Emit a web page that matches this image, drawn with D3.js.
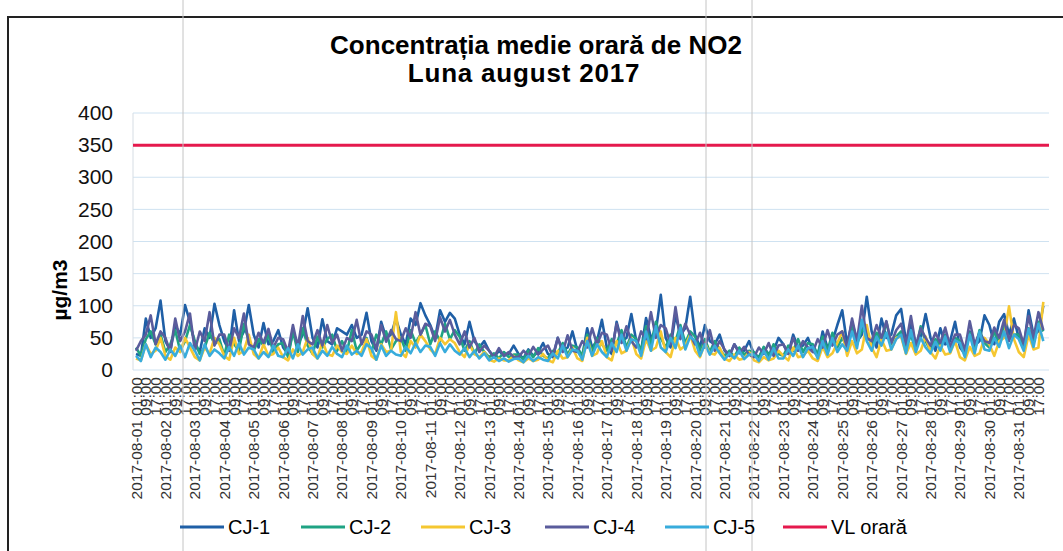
<!DOCTYPE html>
<html>
<head>
<meta charset="utf-8">
<script src="https://cdn.jsdelivr.net/npm/d3@7"></script>
<style>
  body { margin: 0; background: #fff; }
  text { font-family: "Liberation Sans", Arial, sans-serif; }
</style>
</head>
<body>
<div id="chart"></div>
<script>
// 4-hourly readings (01, 05, 09, 13, 17, 21h) for each day of August 2017
const days = d3.range(1, 32).map(d => "2017-08-" + String(d).padStart(2, "0"));

const cj1 = [
  25,22,80,50,65,108,  45,30,70,55,101,75,  40,28,65,50,103,70,  45,30,93,45,60,101,
  55,35,73,40,45,62,   35,25,60,40,55,96,   50,35,79,45,40,65,   60,55,70,50,55,89,
  45,30,75,50,55,80,   55,40,80,70,104,85,  70,50,93,75,89,80,   55,40,75,45,35,45,
  30,20,30,22,25,38,   25,18,32,22,28,42,   25,20,50,30,35,60,   30,22,65,35,45,78,
  35,25,75,45,50,87,   45,30,81,50,60,117,  50,35,85,55,65,114,  55,35,70,45,40,55,
  30,22,40,28,30,45,   25,20,35,25,30,50,   40,25,55,35,38,50,   30,22,60,35,45,70,
  93,40,75,45,55,114,  60,35,80,50,55,85,   95,45,70,40,50,87,   50,30,65,40,45,75,
  35,25,60,38,45,85,   70,40,75,87,55,80,   50,35,93,55,60,100
];
const cj2 = [
  35,22,48,60,40,55,   28,40,62,30,45,70,   45,25,35,58,40,48,   22,55,40,30,72,45,
  30,48,38,55,28,40,   42,20,60,28,65,38,   25,52,35,48,55,30,   45,28,62,30,42,50,
  28,55,40,60,32,45,   50,30,62,42,55,70,   40,60,45,72,48,62,   52,30,45,25,40,28,
  20,26,18,28,20,24,   24,16,30,20,34,22,   18,30,26,42,24,38,   35,22,55,28,50,40,
  30,48,40,62,35,55,   48,30,68,40,75,50,   35,55,45,70,42,60,   52,30,48,28,45,32,
  22,30,20,35,24,30,   28,18,36,22,40,25,   22,38,30,48,28,42,   40,24,52,30,58,35,
  50,35,70,40,62,60,   38,58,45,75,40,52,   60,32,55,30,68,45,   30,48,38,55,32,50,
  45,25,58,30,62,42,   35,60,42,70,48,55,   55,38,65,45,75,60
];
const cj3 = [
  18,15,40,25,30,50,   22,16,35,28,50,35,   20,15,35,25,50,40,   22,16,50,25,30,55,
  25,18,40,22,25,35,   20,15,32,22,28,50,   25,18,45,25,22,38,   28,25,38,25,28,48,
  22,16,40,28,30,90,   28,20,45,35,55,45,   32,25,50,40,48,42,   28,20,40,25,20,28,
  16,13,18,15,15,22,   15,12,18,14,16,25,   15,12,30,18,20,35,   18,14,50,22,26,45,
  20,15,45,26,30,50,   25,18,48,30,35,60,   28,20,50,32,38,55,   30,20,42,26,24,35,
  18,14,24,16,18,28,   15,12,20,15,18,30,   22,15,35,20,22,30,   18,14,36,20,26,42,
  60,22,45,26,32,70,   35,20,48,30,32,50,   52,25,42,24,30,52,   28,18,38,24,26,45,
  20,15,36,22,26,50,   40,22,45,50,99,48,   28,20,55,32,35,106
];
const cj4 = [
  30,45,55,85,40,60,   50,28,80,45,60,88,   30,60,45,90,38,55,   55,30,65,50,88,40,
  35,58,42,64,35,50,   48,28,70,35,84,45,   40,62,38,70,42,55,   30,50,45,78,40,60,
  55,32,70,44,62,48,   45,65,50,90,55,72,   68,45,82,60,78,55,   40,60,35,50,28,38,
  30,20,34,22,28,20,   20,30,22,36,24,32,   38,22,50,28,54,30,   28,45,35,65,40,58,
  55,30,72,42,68,45,   35,60,48,90,50,70,   65,40,98,48,72,55,   40,58,35,62,30,45,
  32,22,40,26,36,24,   20,35,25,42,22,38,   40,25,50,30,45,35,   28,48,35,62,38,55,
  60,35,80,45,100,50,  45,70,50,76,42,62,   72,40,84,38,65,50,   38,58,42,66,36,55,
  55,30,76,40,58,45,   42,66,50,78,45,70,   65,40,84,50,90,62
];
const cj5 = [
  22,14,40,20,35,28,   16,32,22,38,20,42,   30,15,40,22,32,26,   18,36,22,42,24,35,
  32,18,28,20,38,22,   20,34,18,40,24,32,   35,18,30,22,36,25,   20,38,24,30,22,40,
  34,16,38,22,30,24,   22,36,26,42,28,38,   36,22,42,28,40,30,   24,34,20,30,18,26,
  15,20,14,18,13,17,   18,12,22,14,20,16,   14,26,18,38,20,32,   30,16,45,22,40,28,
  20,42,28,55,30,48,   45,22,60,30,68,35,   28,50,34,66,32,52,   45,22,40,24,38,26,
  16,26,18,30,17,24,   24,14,30,16,34,18,   18,32,22,38,20,34,   36,18,45,24,50,28,
  40,30,60,34,78,45,   30,52,38,58,32,48,   55,26,62,28,50,35,   26,44,30,52,28,46,
  42,20,55,26,60,32,   30,50,36,60,34,55,   48,30,64,36,72,45
];
const vlOrara = 350;

const seriesNames  = ["CJ-1", "CJ-2", "CJ-3", "CJ-4", "CJ-5"];
const seriesValues = [cj1, cj2, cj3, cj4, cj5];
const colors = ["#1f5fa6", "#1fa383", "#f5c731", "#5a5c9c", "#38acdc"];
const vlColor = "#e5194d";
const yTicks = [0, 50, 100, 150, 200, 250, 300, 350, 400];

const W = 1063, H = 551;
const plot = { left: 133, right: 1049, top: 113, bottom: 370 };

const svg = d3.select("#chart").append("svg")
  .attr("width", W).attr("height", H);

// frame of the chart object
svg.append("rect")
  .attr("x", 8).attr("y", 17)
  .attr("width", W + 20).attr("height", H)
  .attr("fill", "none").attr("stroke", "#222").attr("stroke-width", 2);

const x = d3.scaleLinear().domain([0, 743]).range([136, 1047]);
const y = d3.scaleLinear().domain([0, 400]).range([plot.bottom, plot.top]);

// gridlines
svg.append("g")
  .selectAll("line")
  .data(yTicks)
  .join("line")
  .attr("x1", plot.left).attr("x2", plot.right)
  .attr("y1", d => y(d)).attr("y2", d => y(d))
  .attr("stroke", "#cfe2f1").attr("stroke-width", 1);

svg.append("line")
  .attr("x1", plot.left).attr("x2", plot.left)
  .attr("y1", plot.top).attr("y2", plot.bottom)
  .attr("stroke", "#d6dde4");

// y axis labels
const yAxis = svg.append("g")
  .attr("transform", `translate(${plot.left - 8},0)`)
  .call(d3.axisLeft(y).tickValues(yTicks).tickSize(0).tickPadding(12));
yAxis.select(".domain").remove();
yAxis.selectAll("text")
  .attr("font-size", 21).attr("fill", "#111")
  .style("font-family", "'Liberation Sans', Arial, sans-serif");

svg.append("text")
  .attr("transform", "translate(67,290) rotate(-90)")
  .attr("text-anchor", "middle")
  .attr("font-size", 21).attr("font-weight", "bold")
  .text("µg/m3");

// title
svg.append("text")
  .attr("x", 536).attr("y", 54)
  .attr("text-anchor", "middle")
  .attr("font-size", 26).attr("font-weight", "bold")
  .text("Concentrația medie orară de NO2");
svg.append("text")
  .attr("x", 524).attr("y", 82)
  .attr("text-anchor", "middle")
  .attr("font-size", 26).attr("font-weight", "bold")
  .attr("letter-spacing", 0.8)
  .text("Luna august 2017");

// category labels: full date at 01:00, time only at 09:00 and 17:00
const labels = [];
days.forEach((d, i) => {
  labels.push({ h: i * 24, text: d + " 01:00" });
  labels.push({ h: i * 24 + 8, text: "09:00" });
  labels.push({ h: i * 24 + 16, text: "17:00" });
});

svg.append("g")
  .selectAll("text")
  .data(labels)
  .join("text")
  .attr("transform", d => `translate(${x(d.h) + 5.5},${plot.bottom + 7}) rotate(-90)`)
  .attr("text-anchor", "end")
  .attr("font-size", 15.5)
  .attr("fill", "#333")
  .text(d => d.text);

// series lines
const line = d3.line()
  .x((v, i) => x(Math.floor(i / 6) * 24 + (i % 6) * 4))
  .y(v => y(v));

svg.append("g")
  .selectAll("path")
  .data(seriesValues)
  .join("path")
  .attr("d", line)
  .attr("fill", "none")
  .attr("stroke", (d, i) => colors[i])
  .attr("stroke-width", 2.6)
  .attr("stroke-linejoin", "round");

svg.append("line")
  .attr("x1", plot.left).attr("x2", plot.right)
  .attr("y1", y(vlOrara)).attr("y2", y(vlOrara))
  .attr("stroke", vlColor).attr("stroke-width", 3);

// faint scanner lines
svg.append("g")
  .selectAll("line")
  .data([183, 706, 752])
  .join("line")
  .attr("x1", d => d).attr("x2", d => d)
  .attr("y1", 0).attr("y2", H)
  .attr("stroke", "#c4c4c4").attr("stroke-width", 1);

// legend
const legendItems = seriesNames.map((n, i) => ({ name: n, color: colors[i] }))
  .concat([{ name: "VL orară", color: vlColor }]);
const legendX = [180, 301, 421, 545, 665, 783];

const lg = svg.append("g")
  .selectAll("g")
  .data(legendItems)
  .join("g")
  .attr("transform", (d, i) => `translate(${legendX[i]},527)`);
lg.append("line")
  .attr("x1", 0).attr("x2", 44)
  .attr("stroke", d => d.color).attr("stroke-width", 3);
lg.append("text")
  .attr("x", 48).attr("y", 7)
  .attr("font-size", 20)
  .text(d => d.name);
</script>
</body>
</html>
